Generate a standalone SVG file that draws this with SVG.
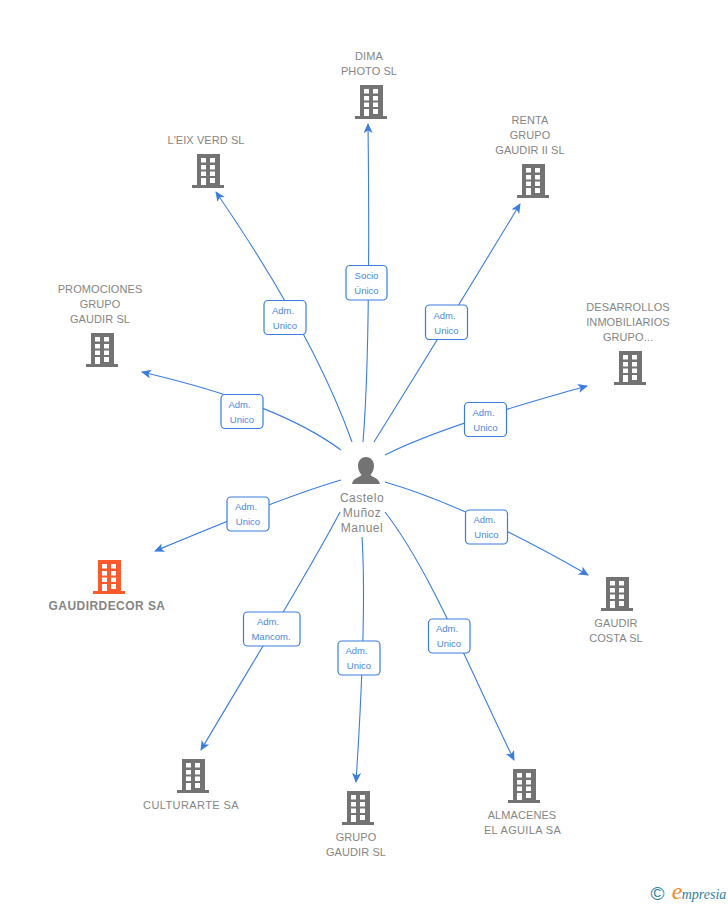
<svg xmlns="http://www.w3.org/2000/svg" width="728" height="905" viewBox="0 0 728 905">
<style>
text{font-family:"Liberation Sans",Arial,sans-serif;text-anchor:middle}
.n{font-size:11px;fill:#858585;letter-spacing:.08px}
.r{font-size:12px;fill:#858585;letter-spacing:.5px}
.o{font-size:12px;font-weight:bold;fill:#858585;letter-spacing:.45px}
.l{font-size:9.500px;fill:#4a87e0}
.b{fill:#fff;stroke:#3b7ddd;stroke-width:1.200}
.e{fill:none;stroke:#3b7ddd;stroke-width:1.100;marker-end:url(#a)}
</style>
<defs>
<marker id="a" markerUnits="userSpaceOnUse" markerWidth="12" markerHeight="10" refX="9" refY="4.500" orient="auto">
<path d="M0 0L10 4.500L0 9L2.500 4.500Z" fill="#3b7ddd"/>
</marker>
<symbol id="bld" width="32" height="34" viewBox="0 0 32 34">
<path fill-rule="evenodd" d="M5 0H28V31H32V34H0V31H5ZM9 4V8.500H14V4ZM18 4V8.500H23V4ZM9 11V15.500H14V11ZM18 11V15.500H23V11ZM9 17.500V22H14V17.500ZM18 17.500V22H23V17.500ZM9 24V31H14V24ZM18 24V29H23V24Z"/>
</symbol>
</defs>
<g id="connectors">
<path class="e" d="M363 442C368 380 370 290 368 124"/>
<path class="e" d="M352 442C330 380 290 300 216 192"/>
<path class="e" d="M374 442C400 400 450 320 520 204"/>
<path class="e" d="M341 450C300 420 240 395 142 372"/>
<path class="e" d="M385 455C430 432 500 410 587 386"/>
<path class="e" d="M341 480C290 495 230 520 155 551"/>
<path class="e" d="M385 482C440 498 510 530 588 575"/>
<path class="e" d="M340 512C310 570 260 650 201 750"/>
<path class="e" d="M362 537C366 600 362 690 356 782"/>
<path class="e" d="M385 512C430 570 470 670 514 760"/>
</g>
<g id="edge-labels">
<rect class="b" x="346" y="265.500" width="41" height="34.500" rx="4"/><text class="l" x="366.500" y="279">Socio</text><text class="l" x="366.500" y="294">Único</text>
<rect class="b" x="264" y="300.500" width="42" height="34" rx="4"/><text class="l" x="283" y="314">Adm.</text><text class="l" x="285" y="329">Unico</text>
<rect class="b" x="425.500" y="305" width="42" height="34.500" rx="4"/><text class="l" x="444.500" y="319">Adm.</text><text class="l" x="446.500" y="334">Unico</text>
<rect class="b" x="221" y="394.500" width="42" height="34" rx="4"/><text class="l" x="239.500" y="408">Adm.</text><text class="l" x="242" y="423">Unico</text>
<rect class="b" x="464.500" y="402.500" width="42" height="34" rx="4"/><text class="l" x="483.500" y="416">Adm.</text><text class="l" x="485.500" y="431">Unico</text>
<rect class="b" x="227" y="497" width="42" height="34" rx="4"/><text class="l" x="246" y="510">Adm.</text><text class="l" x="248" y="525">Unico</text>
<rect class="b" x="465.500" y="510" width="42" height="34" rx="4"/><text class="l" x="484.500" y="523">Adm.</text><text class="l" x="486.500" y="538">Unico</text>
<rect class="b" x="243.500" y="612" width="56.500" height="34" rx="4"/><text class="l" x="268" y="625">Adm.</text><text class="l" x="271" y="640">Mancom.</text>
<rect class="b" x="338" y="641" width="42" height="34" rx="4"/><text class="l" x="356.500" y="654">Adm.</text><text class="l" x="359" y="669">Unico</text>
<rect class="b" x="428.500" y="619" width="41.500" height="34" rx="4"/><text class="l" x="447" y="632">Adm.</text><text class="l" x="449" y="647">Unico</text>
</g>
<g id="center"><path fill="#737373" d="M366 457C371 457 374 461 374 466C374 470 372 473 370.500 475C372 477 379 478 380 484H352C353 478 360 477 361.500 475C360 473 358 470 358 466C358 461 361 457 366 457Z"/>
<text class="r" x="362" y="502">Castelo</text><text class="r" x="362" y="517">Muñoz</text><text class="r" x="362" y="532">Manuel</text></g>
<g id="dima"><use href="#bld" x="355" y="85" fill="#737373"/><text class="n" x="369" y="60">DIMA</text><text class="n" x="369" y="75">PHOTO SL</text></g>
<g id="eix"><use href="#bld" x="192" y="154" fill="#737373"/><text class="n" x="206" y="144">L'EIX VERD SL</text></g>
<g id="renta"><use href="#bld" x="517" y="164" fill="#737373"/><text class="n" x="530" y="124">RENTA</text><text class="n" x="530" y="139">GRUPO</text><text class="n" x="530" y="154">GAUDIR II SL</text></g>
<g id="promociones"><use href="#bld" x="86" y="333" fill="#737373"/><text class="n" x="100" y="293">PROMOCIONES</text><text class="n" x="100" y="308">GRUPO</text><text class="n" x="100" y="323">GAUDIR SL</text></g>
<g id="desarrollos"><use href="#bld" x="614" y="351" fill="#737373"/><text class="n" x="628" y="311">DESARROLLOS</text><text class="n" x="628" y="326">INMOBILIARIOS</text><text class="n" x="628" y="341">GRUPO...</text></g>
<g id="gaudirdecor"><use href="#bld" x="93" y="560" fill="#ff5a2b"/><text class="o" x="107" y="610">GAUDIRDECOR SA</text></g>
<g id="costa"><use href="#bld" x="601" y="577" fill="#737373"/><text class="n" x="616" y="627">GAUDIR</text><text class="n" x="616" y="642">COSTA SL</text></g>
<g id="almacenes"><use href="#bld" x="508" y="769" fill="#737373"/><text class="n" x="522" y="819">ALMACENES</text><text class="n" x="522.500" y="834" style="letter-spacing:.35px">EL AGUILA SA</text></g>
<g id="grupo"><use href="#bld" x="342" y="791" fill="#737373"/><text class="n" x="356" y="841">GRUPO</text><text class="n" x="356" y="856">GAUDIR SL</text></g>
<g id="culturarte"><use href="#bld" x="177" y="759" fill="#737373"/><text class="n" x="191" y="809" style="letter-spacing:.4px">CULTURARTE SA</text></g>
<g id="logo"><text x="657.500" y="900" style="font-size:19px;fill:#2f7f9e">©</text><text x="677" y="899" style="font-family:'Liberation Serif',serif;font-style:italic;font-size:24px;fill:#f08a1d">e</text><text x="704" y="898.500" style="font-family:'Liberation Serif',serif;font-style:italic;font-size:14px;fill:#2f7f9e">mpresia</text></g>
</svg>
